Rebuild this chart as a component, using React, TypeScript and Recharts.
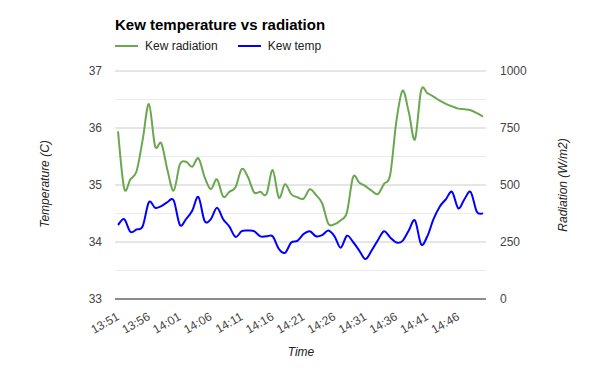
import React from "react";
import { LineChart, Line, XAxis, YAxis, CartesianGrid } from "recharts";

// one reading per minute, 13:51 to 14:50
const times = [
	"13:51", "13:52", "13:53", "13:54", "13:55", "13:56", "13:57", "13:58", "13:59", "14:00",
	"14:01", "14:02", "14:03", "14:04", "14:05", "14:06", "14:07", "14:08", "14:09", "14:10",
	"14:11", "14:12", "14:13", "14:14", "14:15", "14:16", "14:17", "14:18", "14:19", "14:20",
	"14:21", "14:22", "14:23", "14:24", "14:25", "14:26", "14:27", "14:28", "14:29", "14:30",
	"14:31", "14:32", "14:33", "14:34", "14:35", "14:36", "14:37", "14:38", "14:39", "14:40",
	"14:41", "14:42", "14:43", "14:44", "14:45", "14:46", "14:47", "14:48", "14:49", "14:50",
];

const radiation = [
	735, 485, 525, 560, 700, 855, 670, 683, 565, 475,
	590, 602, 580, 617, 535, 482, 525, 449, 470, 490,
	570, 535, 468, 470, 460, 566, 444, 503, 460, 446,
	440, 481, 456, 420, 330, 328, 345, 380, 535, 510,
	495, 475, 460, 505, 545, 780, 914, 820, 700, 915,
	903, 888, 870, 856, 845, 835, 832, 828, 815, 800,
];

const temperature = [
	34.3, 34.4, 34.18, 34.22, 34.28, 34.7, 34.6, 34.63, 34.7, 34.73,
	34.3, 34.4, 34.55, 34.79, 34.37, 34.4, 34.6, 34.4, 34.27, 34.09,
	34.19, 34.2, 34.19, 34.1, 34.1, 34.1, 33.88, 33.81, 33.99, 34.02,
	34.14, 34.19, 34.1, 34.12, 34.2, 34.1, 33.9, 34.11, 34.0, 33.85,
	33.7, 33.85, 34.03, 34.19, 34.08, 33.99, 34.02, 34.2, 34.38, 33.96,
	34.1, 34.4, 34.62, 34.75, 34.88, 34.59, 34.75, 34.88, 34.53, 34.5,
];

const tempTicks = [33, 33.5, 34, 34.5, 35, 35.5, 36, 36.5, 37];
const radTicks = [0, 250, 500, 750, 1000];

const data = times.map((t, i) => ({ time: t, radiation: radiation[i], temp: temperature[i] }));

const FONT = "'Liberation Sans', Arial, sans-serif";

// catmull-rom style smoothing, closer to the google "function" curve than monotone
const smoothCurve = (context: any) => {
	let pts: number[][] = [];
	return {
		areaStart() {},
		areaEnd() {},
		lineStart() {
			pts = [];
		},
		point(x: number, y: number) {
			pts.push([+x, +y]);
		},
		lineEnd() {
			const n = pts.length;
			if (!n) return;
			context.moveTo(pts[0][0], pts[0][1]);
			const k = 1 / 6;
			for (let i = 0; i < n - 1; i++) {
				const p0 = pts[i - 1] || pts[i];
				const p1 = pts[i];
				const p2 = pts[i + 1];
				const p3 = pts[i + 2] || p2;
				context.bezierCurveTo(
					p1[0] + (p2[0] - p0[0]) * k,
					p1[1] + (p2[1] - p0[1]) * k,
					p2[0] - (p3[0] - p1[0]) * k,
					p2[1] - (p3[1] - p1[1]) * k,
					p2[0],
					p2[1]
				);
			}
		},
	};
};

const TimeTick = (props: any) => {
	const { x, y, payload } = props;
	return (
		<g transform={`translate(${x + 2},${y + 20})`}>
			<text textAnchor='end' transform='rotate(-30)' fontSize={12} fill='#444'>
				{payload.value}
			</text>
		</g>
	);
};

const gridLine = (props: any) => (
	<line
		key={props.key}
		x1={props.x1}
		y1={props.y1}
		x2={props.x2}
		y2={props.y2}
		stroke={props.index % 2 === 0 ? "#cccccc" : "#ebebeb"}
		strokeWidth={1}
	/>
);

export default function App() {
	return (
		<div style={{ position: "relative", width: 600, height: 371, fontFamily: FONT, background: "#fff" }}>
			<style>{"body{margin:0}"}</style>
			<LineChart width={600} height={371} data={data} margin={{ top: 71, right: 0, bottom: 12, left: 0 }}>
				<CartesianGrid yAxisId='temp' vertical={false} horizontal={gridLine} />
				<XAxis
					dataKey='time'
					interval={4}
					height={60}
					padding={{ left: 3, right: 3 }}
					stroke='#333'
					tickLine={false}
					tickSize={0}
					tickMargin={0}
					tick={<TimeTick />}
				/>
				<YAxis
					yAxisId='temp'
					domain={[33, 37]}
					ticks={tempTicks}
					width={115}
					axisLine={false}
					tickLine={false}
					tickSize={0}
					tickMargin={13}
					tickFormatter={(v: number) => (Number.isInteger(v) ? String(v) : "")}
					tick={{ fontSize: 12, fill: "#444" }}
				/>
				<YAxis
					yAxisId='rad'
					orientation='right'
					domain={[0, 1000]}
					ticks={radTicks}
					width={114}
					axisLine={false}
					tickLine={false}
					tickSize={0}
					tickMargin={14}
					tick={{ fontSize: 12, fill: "#444" }}
				/>
				<Line
					yAxisId='rad'
					type={smoothCurve as any}
					dataKey='radiation'
					name='Kew radiation'
					stroke='#6aa84f'
					strokeWidth={2}
					dot={false}
					isAnimationActive={false}
				/>
				<Line
					yAxisId='temp'
					type={smoothCurve as any}
					dataKey='temp'
					name='Kew temp'
					stroke='#0000ff'
					strokeWidth={2}
					dot={false}
					isAnimationActive={false}
				/>
			</LineChart>

			<div style={{ position: "absolute", left: 115, top: 16, fontSize: 15, fontWeight: "bold", color: "#000" }}>
				Kew temperature vs radiation
			</div>
			<div style={{ position: "absolute", left: 115, top: 39, display: "flex", alignItems: "center", fontSize: 12, color: "#222" }}>
				<span style={{ width: 23, height: 2, background: "#6aa84f", marginRight: 7 }} />
				<span style={{ marginRight: 20 }}>Kew radiation</span>
				<span style={{ width: 23, height: 2, background: "#0000ff", marginRight: 7 }} />
				<span>Kew temp</span>
			</div>
			<div
				style={{
					position: "absolute",
					left: 45,
					top: 184,
					transform: "translate(-50%,-50%) rotate(-90deg)",
					whiteSpace: "nowrap",
					fontSize: 12,
					fontStyle: "italic",
					color: "#222",
				}}
			>
				Temperature (C)
			</div>
			<div
				style={{
					position: "absolute",
					left: 563,
					top: 185,
					transform: "translate(-50%,-50%) rotate(-90deg)",
					whiteSpace: "nowrap",
					fontSize: 12,
					fontStyle: "italic",
					color: "#222",
				}}
			>
				Radiation (W/m2)
			</div>
			<div
				style={{
					position: "absolute",
					left: 301,
					top: 352,
					transform: "translate(-50%,-50%)",
					fontSize: 12,
					fontStyle: "italic",
					color: "#222",
				}}
			>
				Time
			</div>
		</div>
	);
}
